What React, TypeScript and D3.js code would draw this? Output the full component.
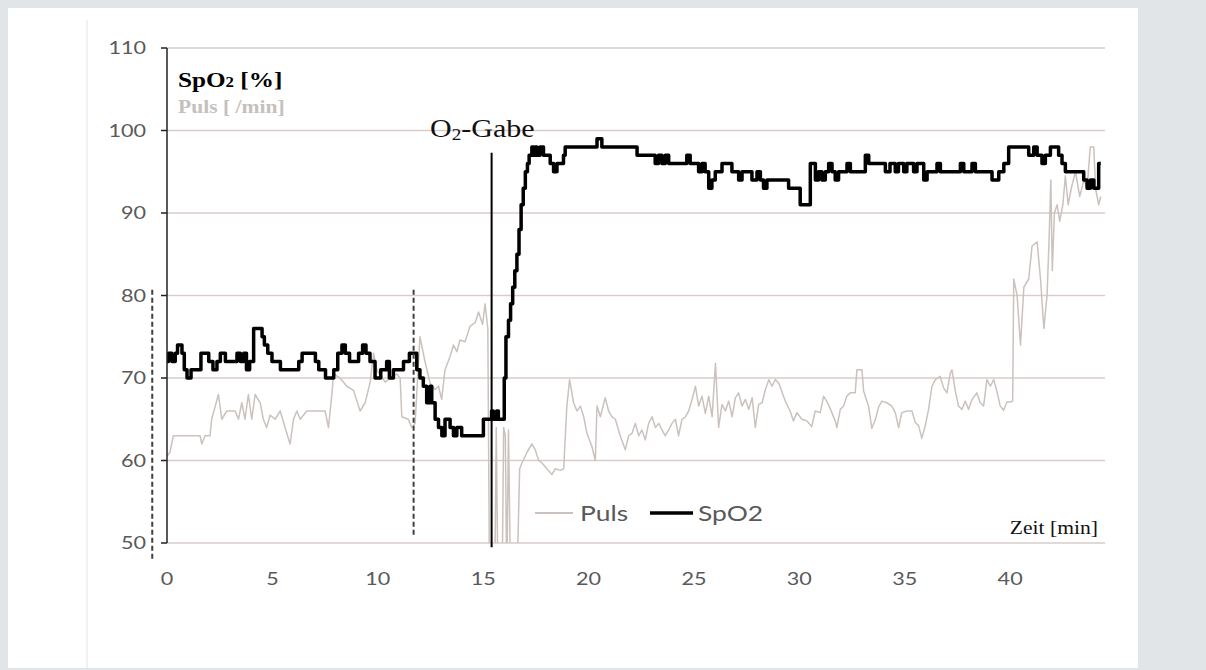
import React from "react";
import * as d3 from "d3";

// time [min], value
const spo2: [number, number][] = [
  [0, 72], [0.07, 73], [0.23, 72], [0.39, 73], [0.5, 74], [0.71, 73], [0.82, 71], [0.95, 70], [1.14, 71],
  [1.61, 73], [1.98, 72], [2.18, 71], [2.37, 72], [2.53, 73], [2.77, 72], [3.32, 73], [3.48, 72], [3.64, 73],
  [3.77, 71], [3.92, 72], [4.11, 76], [4.51, 75], [4.62, 74], [4.78, 73], [4.98, 72], [5.38, 71], [6.25, 72],
  [6.41, 73], [7.04, 72], [7.2, 71], [7.52, 70], [7.91, 71], [8.1, 73], [8.3, 74], [8.46, 73], [8.66, 72],
  [9.09, 73], [9.28, 74], [9.44, 73], [9.63, 72], [9.87, 70], [10.14, 71], [10.42, 72], [10.55, 70], [10.74, 71],
  [11.22, 72], [11.5, 73], [11.85, 71], [12.0, 70], [12.16, 69], [12.32, 67], [12.48, 69], [12.56, 67],
  [12.72, 65], [12.88, 64], [13.04, 63], [13.19, 65], [13.43, 64], [13.59, 63], [13.75, 64], [13.98, 63],
  [15.01, 65], [15.4, 66], [15.48, 65], [15.64, 66], [15.72, 65], [16.0, 70], [16.08, 75], [16.2, 77],
  [16.3, 79], [16.4, 81], [16.5, 83], [16.6, 85], [16.7, 88], [16.8, 91], [16.9, 93], [17.0, 95], [17.1, 96],
  [17.18, 97], [17.31, 98], [17.39, 97], [17.47, 98], [17.55, 97], [17.7, 98], [17.86, 97], [18.18, 96],
  [18.34, 95], [18.5, 96], [18.81, 97], [18.89, 98], [20.4, 99], [20.63, 98], [22.3, 97], [23.16, 96],
  [23.32, 97], [23.48, 96], [23.64, 97], [23.8, 96], [24.66, 97], [24.82, 96], [25.22, 95], [25.38, 96],
  [25.53, 95], [25.7, 93], [25.85, 94], [26.01, 95], [26.33, 96], [26.8, 95], [27.12, 94], [27.28, 95],
  [27.75, 94], [27.99, 95], [28.15, 94], [28.3, 93], [28.46, 94], [29.49, 93], [30.04, 91], [30.52, 96],
  [30.76, 94], [30.91, 95], [31.07, 94], [31.23, 95], [31.39, 96], [31.55, 95], [31.7, 94], [31.86, 95],
  [32.26, 96], [32.42, 95], [33.13, 97], [33.29, 96], [34.08, 95], [34.3, 96], [34.55, 95], [34.7, 96],
  [34.95, 95], [35.1, 96], [35.42, 95], [35.58, 96], [35.9, 94], [36.06, 95], [36.53, 96], [36.69, 95],
  [37.64, 96], [37.8, 95], [38.19, 96], [38.35, 95], [39.14, 94], [39.46, 95], [39.7, 96], [39.93, 98],
  [40.88, 97], [41.12, 98], [41.28, 97], [41.51, 96], [41.67, 97], [41.91, 98], [42.3, 97], [42.46, 96],
  [42.62, 95], [43.49, 94], [43.65, 93], [43.81, 94], [43.97, 93], [44.2, 96], [44.3, 96],
];

const puls: [number, number][] = [
  [0, 60.5], [0.14, 61], [0.3, 63], [1.57, 63], [1.65, 62], [1.8, 63], [2.04, 63], [2.12, 65], [2.44, 68],
  [2.6, 65], [2.83, 66], [3.23, 66], [3.39, 65], [3.55, 67], [3.7, 65], [3.86, 68], [4.02, 65], [4.18, 68],
  [4.42, 67], [4.57, 65], [4.73, 64], [4.89, 65.5], [5.13, 65], [5.37, 66], [5.6, 64], [5.84, 62], [6.0, 65],
  [6.16, 66], [6.32, 65], [6.63, 66], [7.5, 66], [7.66, 64], [7.82, 68], [7.9, 70.5], [8.21, 70], [8.53, 69],
  [8.85, 68.5], [9.16, 66], [9.4, 67], [9.64, 69.5], [9.8, 73], [9.95, 71], [10.35, 69.5], [10.59, 70],
  [10.9, 70.5], [11.06, 70], [11.14, 65.3], [11.45, 65], [11.61, 64], [11.77, 64.5], [12.0, 75], [12.24, 72],
  [12.48, 69.4], [12.72, 68.6], [12.88, 69], [13.03, 67.4], [13.19, 71], [13.43, 72.6], [13.59, 74],
  [13.75, 73.2], [13.9, 74.6], [14.14, 74.4], [14.38, 76.3], [14.62, 76.7], [14.78, 78], [14.97, 76.5],
  [15.09, 79], [15.22, 76], [15.3, 45], [15.55, 45], [15.62, 64], [15.7, 45], [15.9, 45], [15.97, 64],
  [16.05, 63], [16.12, 45], [16.2, 63.7], [16.3, 45], [16.6, 45], [16.73, 59], [16.84, 59.7], [17.08, 61],
  [17.31, 62], [17.47, 61.3], [17.63, 60], [17.79, 59.7], [18.02, 59], [18.26, 58.3], [18.42, 59],
  [18.66, 58.8], [18.82, 59], [18.97, 66.6], [19.1, 69.8], [19.29, 67], [19.45, 66], [19.61, 66.6],
  [19.77, 65.3], [19.92, 63.3], [20.16, 61.7], [20.32, 60], [20.4, 66.6], [20.56, 65.3], [20.79, 67.6],
  [20.95, 66], [21.11, 65.3], [21.27, 65], [21.5, 63], [21.74, 61.3], [21.9, 63], [22.06, 63.3], [22.22, 64.5],
  [22.38, 63], [22.53, 63.7], [22.69, 62.5], [22.85, 64.5], [23.01, 65.3], [23.17, 64], [23.33, 64.5],
  [23.48, 63.7], [23.64, 63], [23.8, 63.7], [23.96, 64.5], [24.12, 65], [24.27, 63], [24.43, 65],
  [24.59, 65.3], [24.75, 66], [24.91, 67.4], [25.07, 69], [25.22, 66.6], [25.38, 67.8], [25.54, 65.7],
  [25.7, 67.8], [25.86, 65.3], [26.02, 71.8], [26.17, 64], [26.33, 66.8], [26.49, 66], [26.65, 67.2],
  [26.81, 65.3], [26.96, 67.6], [27.12, 68.2], [27.28, 66.6], [27.44, 67.4], [27.6, 66.2], [27.76, 67.6],
  [27.91, 64], [28.07, 66.8], [28.23, 67], [28.39, 68.6], [28.55, 69.8], [28.7, 69], [28.86, 69.8],
  [29.02, 69.4], [29.33, 67.2], [29.56, 66], [29.72, 64.8], [29.88, 65.8], [30.12, 65], [30.36, 64.8],
  [30.59, 64.1], [30.75, 66], [30.99, 65.8], [31.15, 67.8], [31.38, 66.8], [31.54, 65.8], [31.7, 64.8],
  [31.78, 64], [31.94, 66.2], [32.1, 66.6], [32.25, 67.8], [32.41, 68.2], [32.65, 68.2], [32.73, 71],
  [32.97, 71], [33.05, 68.4], [33.28, 66.6], [33.44, 63.9], [33.6, 64.9], [33.76, 66.5], [33.92, 67.2],
  [34.15, 67], [34.39, 66.6], [34.55, 65.8], [34.71, 64], [34.86, 65.8], [35.1, 66], [35.34, 66],
  [35.5, 64.6], [35.66, 64.2], [35.81, 62.7], [35.97, 64.2], [36.13, 66.2], [36.29, 69], [36.45, 69.8],
  [36.68, 70.2], [36.84, 68.8], [37.0, 68.2], [37.16, 70.6], [37.24, 71], [37.4, 68.4], [37.55, 66.6],
  [37.71, 66.2], [37.87, 67.2], [38.03, 66.2], [38.19, 67.4], [38.42, 68.2], [38.58, 67], [38.74, 66.6],
  [38.9, 69.8], [39.06, 69], [39.22, 69.8], [39.37, 68.4], [39.53, 66.6], [39.69, 66.1], [39.85, 67.1],
  [40.01, 67.1], [40.12, 67.2], [40.17, 82], [40.33, 80], [40.49, 74], [40.65, 81], [40.88, 82],
  [41.04, 86], [41.28, 86.5], [41.44, 82], [41.6, 76], [41.75, 80], [41.85, 87], [41.93, 94], [42.0, 83],
  [42.1, 90], [42.23, 91], [42.35, 89], [42.5, 91], [42.62, 94.5], [42.75, 91], [42.9, 93], [43.1, 95],
  [43.3, 92], [43.5, 94], [43.65, 93], [43.8, 98], [43.97, 98], [44.05, 93], [44.2, 91], [44.3, 92],
];

const yTicks = [50, 60, 70, 80, 90, 100, 110];
const xTicks = [0, 5, 10, 15, 20, 25, 30, 35, 40];
const markerTimes = [-0.7, 11.7];
const o2Time = 15.4;

const tickFont = "Lato, 'Open Sans', sans-serif";
const serif = "'Liberation Serif', 'Times New Roman', serif";

// Excel export looks stretched sideways, so text is widened a bit
const Wide = ({ x, y, anchor = "start", size, fill = "#595959", children, family = tickFont, weight = 400 }: any) => (
  <g transform={`translate(${x},${y}) scale(1.2,1)`}>
    <text textAnchor={anchor} fontSize={size} fill={fill} fontFamily={family} fontWeight={weight}>
      {children}
    </text>
  </g>
);

export default function App() {
  const x = d3.scaleLinear().domain([0, 44.5]).range([167, 1105]);
  const y = d3.scaleLinear().domain([50, 110]).range([543, 48]);

  const spo2Line = d3
    .line<[number, number]>()
    .x((d) => x(d[0]))
    .y((d) => y(d[1]))
    .curve(d3.curveStepAfter);
  const pulsLine = d3
    .line<[number, number]>()
    .x((d) => x(d[0]))
    .y((d) => y(d[1]));

  return (
    <div style={{ position: "absolute", left: 0, top: 0 }}>
      <svg width={1206} height={670} style={{ display: "block" }}>
        <rect width={1206} height={670} fill="#e2e5e8" />
        <rect x={8} y={8} width={1130} height={660} fill="#ffffff" />
        <line x1={87} x2={87} y1={20} y2={668} stroke="#ececec" strokeWidth={1.5} />
        <defs>
          <clipPath id="plot">
            <rect x={x(0)} y={y(110)} width={x(44.5) - x(0)} height={y(50) - y(110)} />
          </clipPath>
        </defs>

        {yTicks.map((t) => (
          <line key={t} x1={x(0)} x2={x(44.5)} y1={y(t)} y2={y(t)} stroke="#d9cdc9" strokeWidth={1.5} />
        ))}

        <g clipPath="url(#plot)">
          <path d={pulsLine(puls) || ""} fill="none" stroke="#cbc2be" strokeWidth={1.5} strokeLinejoin="round" />
          <path d={spo2Line(spo2) || ""} fill="none" stroke="#000" strokeWidth={3.5} strokeLinejoin="round" />
        </g>

        <line x1={x(0)} x2={x(0)} y1={y(110)} y2={y(50)} stroke="#222" strokeWidth={1.5} />
        {yTicks.map((t) => (
          <g key={t}>
            <line x1={x(0) - 6} x2={x(0)} y1={y(t)} y2={y(t)} stroke="#222" strokeWidth={1.5} />
            <Wide x={146} y={y(t) + 6} anchor="end" size={18}>
              {t}
            </Wide>
          </g>
        ))}
        {xTicks.map((t) => (
          <Wide key={t} x={x(t)} y={585} anchor="middle" size={18}>
            {t}
          </Wide>
        ))}

        {markerTimes.map((t, i) => (
          <line
            key={t}
            x1={x(t)}
            x2={x(t)}
            y1={y(80.7)}
            y2={y(i === 0 ? 48 : 51)}
            stroke="#3f3f3f"
            strokeWidth={2}
            strokeDasharray="5,3"
          />
        ))}
        <line x1={x(o2Time)} x2={x(o2Time)} y1={y(97.3)} y2={y(49.5)} stroke="#000" strokeWidth={2} />

        <Wide x={430} y={137} size={25} fill="#111" family={serif}>
          O<tspan fontSize={16} dy={3}>2</tspan>
          <tspan dy={-3}>-Gabe</tspan>
        </Wide>

        <Wide x={178} y={87} size={21} fill="#000" family={serif} weight={700}>
          SpO<tspan fontSize={14}>2</tspan> [%]
        </Wide>
        <Wide x={178} y={113} size={18} fill="#c6c0bd" family={serif} weight={700}>
          Puls [ /min]
        </Wide>

        <Wide x={1098} y={534} anchor="end" size={18} fill="#111" family={serif}>
          Zeit [min]
        </Wide>

        <line x1={535} x2={573} y1={513} y2={513} stroke="#cbc2be" strokeWidth={2} />
        <Wide x={580} y={521} size={22}>
          Puls
        </Wide>
        <line x1={650} x2={693} y1={513} y2={513} stroke="#000" strokeWidth={3.5} />
        <Wide x={698} y={521} size={22}>
          SpO2
        </Wide>
      </svg>
    </div>
  );
}
